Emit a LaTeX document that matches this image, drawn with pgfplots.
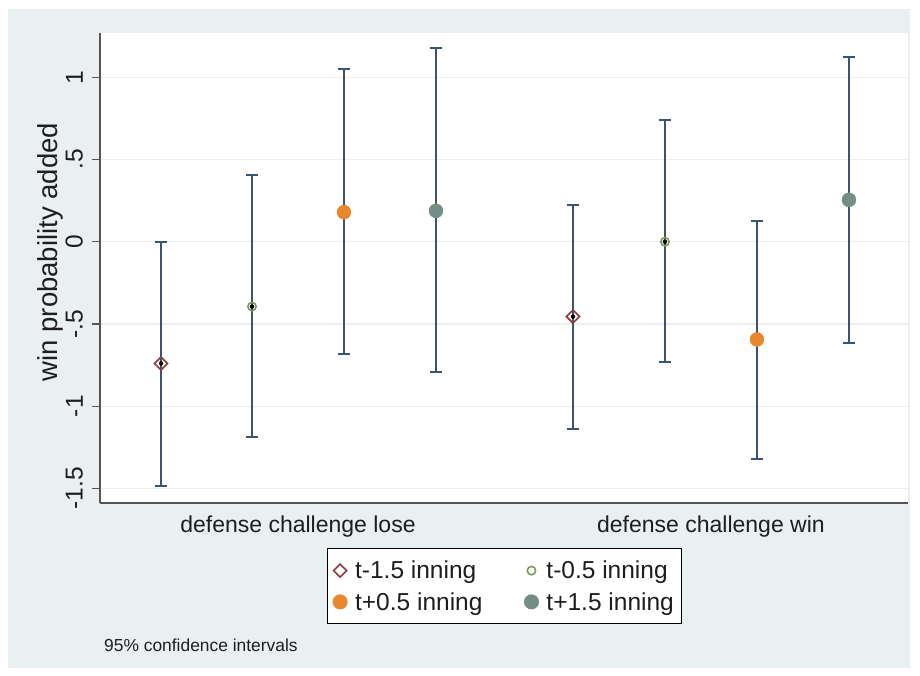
\documentclass[border=0pt]{standalone}
\usepackage{fontspec}
\setmainfont{Liberation Sans}
\usepackage{pgfplots}
\usepackage{pgfplotstable}
\pgfplotsset{compat=1.18}

\definecolor{bgc}{RGB}{234,239,242}
\definecolor{ci}{RGB}{60,84,114}
\definecolor{mar}{RGB}{144,58,62}
\definecolor{olv}{RGB}{120,150,90}
\definecolor{org}{RGB}{232,136,44}
\definecolor{tea}{RGB}{117,142,132}
\definecolor{axc}{RGB}{85,85,85}
\definecolor{grd}{RGB}{236,239,241}
\definecolor{txt}{RGB}{30,30,30}

\pgfplotstableread{
x y lo hi
0.663 -0.740 -1.485 0.000
5.141 -0.455 -1.140 0.226
}\sA
\pgfplotstableread{
x y lo hi
1.652 -0.394 -1.188 0.406
6.141 0.000 -0.730 0.740
}\sB
\pgfplotstableread{
x y lo hi
2.652 0.180 -0.685 1.048
7.141 -0.594 -1.320 0.129
}\sC
\pgfplotstableread{
x y lo hi
3.652 0.188 -0.794 1.180
8.141 0.255 -0.616 1.127
}\sD

\pgfplotsset{cibar/.style={forget plot, only marks, mark=none,
  error bars/.cd, y dir=both, y explicit, error mark=|,
  error bar style={line width=2pt, ci},
  error mark options={line width=2pt, ci, mark size=6pt}}}

\begin{document}
\begin{tikzpicture}
\fill[white] (0,0) rectangle (920pt,675pt);
\fill[bgc] (8pt,7pt) rectangle (910pt,666pt);
\begin{axis}[
  at={(100pt,172pt)}, anchor=south west,
  scale only axis, width=808pt, height=470pt,
  xmin=0, xmax=8.783, ymin=-1.589, ymax=1.27,
  axis background/.style={fill=white},
  axis x line*=bottom, axis y line*=left,
  axis line style={-, axc, line width=1.5pt},
  xtick={2.152,6.641},
  xticklabels={defense challenge lose, defense challenge win},
  xtick style={draw=none},
  xticklabel style={font=\fontsize{23}{27}\selectfont, text=txt, anchor=north, inner sep=0pt},
  xticklabel shift=5pt,
  ytick={-1.5,-1,-0.5,0,0.5,1},
  yticklabels={-1.5,-1,-.5,0,.5,1},
  tick align=outside, major tick length=8pt,
  ytick style={axc, line width=1.3pt},
  yticklabel style={font=\fontsize{24.5}{28}\selectfont, text=txt, rotate=90, anchor=south, inner sep=0pt},
  yticklabel shift=9pt,
  ymajorgrids, grid style={grd, line width=1.2pt},
  ylabel={win probability added},
  ylabel style={font=\fontsize{27.5}{31}\selectfont, text=txt, at={(axis description cs:-0.0619,0.534)}, anchor=center, rotate=0},
  clip=false,
  legend columns=2,
  legend style={at={(axis description cs:0.5006,-0.0936)}, anchor=north, yshift=-1.5pt, draw=black, line width=1pt, fill=white,
    font=\fontsize{24.5}{30}\selectfont, text=txt, inner xsep=6pt, inner ysep=10pt, row sep=8pt,
    /tikz/every odd column/.append style={column sep=6pt},
    /tikz/every even column/.append style={column sep=40pt}},
  legend cell align=left,
]
\addplot[cibar] table[x=x, y=y, y error plus expr=\thisrow{hi}-\thisrow{y}, y error minus expr=\thisrow{y}-\thisrow{lo}] {\sA};
\addplot[cibar] table[x=x, y=y, y error plus expr=\thisrow{hi}-\thisrow{y}, y error minus expr=\thisrow{y}-\thisrow{lo}] {\sB};
\addplot[cibar] table[x=x, y=y, y error plus expr=\thisrow{hi}-\thisrow{y}, y error minus expr=\thisrow{y}-\thisrow{lo}] {\sC};
\addplot[cibar] table[x=x, y=y, y error plus expr=\thisrow{hi}-\thisrow{y}, y error minus expr=\thisrow{y}-\thisrow{lo}] {\sD};
\addplot[only marks, mark=square, mark size=4.6pt, mark options={rotate=45, draw=mar, line width=1.6pt}] table[x=x,y=y] {\sA};
\addlegendentry{t-1.5 inning}
\addplot[only marks, mark=o, mark size=4.2pt, mark options={draw=olv, line width=1.5pt}] table[x=x,y=y] {\sB};
\addlegendentry{t-0.5 inning}
\addplot[only marks, mark=*, mark size=7pt, mark options={draw=org, fill=org}] table[x=x,y=y] {\sC};
\addlegendentry{t+0.5 inning}
\addplot[only marks, mark=*, mark size=7pt, mark options={draw=tea, fill=tea}] table[x=x,y=y] {\sD};
\addlegendentry{t+1.5 inning}
\end{axis}
\node[anchor=base west, font=\fontsize{17.4}{20}\selectfont, text=txt, inner sep=0pt] at (104pt,23.3pt) {95\% confidence intervals};
\end{tikzpicture}
\end{document}
